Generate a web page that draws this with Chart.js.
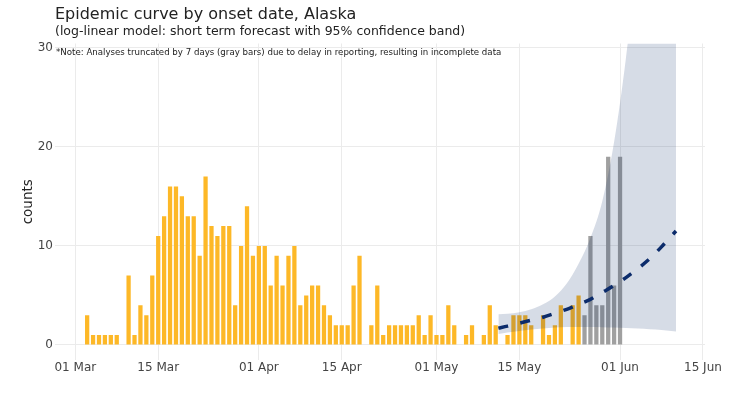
<!DOCTYPE html>
<html>
<head>
<meta charset="utf-8">
<title>Epidemic curve by onset date, Alaska</title>
<script src="https://cdn.jsdelivr.net/npm/chart.js@4.4.1/dist/chart.umd.min.js"></script>
<style>
    html, body { margin: 0; padding: 0; background: #fff; }
    #wrap { width: 741px; height: 393px; }
</style>
</head>
<body>
<div id="wrap"><canvas id="epiChart" width="741" height="393"></canvas></div>
<script>
// Daily counts by onset date, starting 03 Mar
const firstOnsetDate = "2020-03-03";
const dailyCounts = [
    3, 1, 1, 1, 1, 1, 0, 7, 1, 4, 3, 7,                       // 03 - 14 Mar
    11, 13, 16, 16, 15, 13, 13, 9, 17, 12, 11, 12, 12, 4, 10, 14, 9, // 15 - 31 Mar
    10, 10, 6, 9, 6, 9, 10, 4, 5, 6, 6, 4, 3, 2, 2,           // 01 - 15 Apr
    2, 6, 9, 0, 2, 6, 1, 2, 2, 2, 2, 2, 3, 1, 3,              // 16 - 30 Apr
    1, 1, 4, 2, 0, 1, 2, 0, 1, 4, 2, 0, 1, 3, 3,              // 01 - 15 May
    3, 2, 0, 3, 1, 2, 4, 0, 4, 5                              // 16 - 25 May
];

// Last 7 days, truncated because of reporting delay (gray bars)
const firstTruncatedDate = "2020-05-26";
const truncatedCounts = [3, 11, 4, 4, 19, 6, 19];

// Log-linear forecast, x in days since 01 Mar
const forecastDays = [71.45, 73, 75, 77, 79, 81, 83, 85, 87, 89, 91, 93, 95, 97, 99, 101.45];
const forecastMean = [1.7, 1.9, 2.2, 2.5, 2.8, 3.2, 3.6, 4.1, 4.6, 5.3, 6.0, 6.8, 7.7, 8.7, 9.9, 11.5];
const forecastUpper = [3.1, 3.15, 3.3, 3.6, 4.1, 4.9, 6.2, 8.2, 10.8, 14.5, 20.5, 29, 40, 55, 72, 98];
const forecastLower = [1.1, 1.25, 1.4, 1.55, 1.65, 1.75, 1.8, 1.8, 1.8, 1.78, 1.75, 1.7, 1.65, 1.58, 1.5, 1.35];

// Axis ticks
const xTickDates = ["2020-03-01", "2020-03-15", "2020-04-01", "2020-04-15", "2020-05-01", "2020-05-15", "2020-06-01", "2020-06-15"];
const xTickLabels = ["01 Mar", "15 Mar", "01 Apr", "15 Apr", "01 May", "15 May", "01 Jun", "15 Jun"];
const yTicks = [0, 10, 20, 30];

const noteText = "*Note: Analyses truncated by 7 days (gray bars) due to delay in reporting, resulting in incomplete data";
const fontFamily = "'DejaVu Sans', Verdana, sans-serif";

// days since 01 Mar
function dayOf(dateStr) {
    return (Date.parse(dateStr + "T00:00:00Z") - Date.parse("2020-03-01T00:00:00Z")) / 86400000;
}

function toPoints(startDate, counts) {
    const start = dayOf(startDate);
    return counts.map((c, i) => ({ x: start + i, y: c }));
}

function zipPoints(xs, ys) {
    return xs.map((x, i) => ({ x: x, y: ys[i] }));
}

// Small plugin for the note that sits inside the plot area
const notePlugin = {
    id: "note",
    afterDatasetsDraw(chart) {
        const ctx = chart.ctx;
        ctx.save();
        ctx.font = "8.65px " + fontFamily;
        ctx.fillStyle = "#222";
        ctx.textBaseline = "middle";
        ctx.textAlign = "left";
        ctx.fillText(noteText, chart.chartArea.left + 1, chart.chartArea.top + 9);
        ctx.restore();
    }
};

const ctx = document.getElementById("epiChart").getContext("2d");

new Chart(ctx, {
    type: "bar",
    data: {
        datasets: [
            {
                type: "line",
                label: "forecast",
                data: zipPoints(forecastDays, forecastMean),
                borderColor: "#0c2c6b",
                borderWidth: 3.5,
                borderDash: [10, 12.5],
                pointRadius: 0,
                fill: false,
                cubicInterpolationMode: "monotone",
                order: 0
            },
            {
                type: "line",
                label: "upper",
                data: zipPoints(forecastDays, forecastUpper),
                borderWidth: 0,
                pointRadius: 0,
                backgroundColor: "rgba(0, 40, 100, 0.16)",
                fill: "+1",
                cubicInterpolationMode: "monotone",
                order: 1
            },
            {
                type: "line",
                label: "lower",
                data: zipPoints(forecastDays, forecastLower),
                borderWidth: 0,
                pointRadius: 0,
                fill: false,
                cubicInterpolationMode: "monotone",
                order: 1
            },
            {
                label: "counts",
                data: toPoints(firstOnsetDate, dailyCounts),
                backgroundColor: "#fdb827",
                borderWidth: 0,
                grouped: false,
                categoryPercentage: 1,
                barPercentage: 0.72,
                order: 2
            },
            {
                label: "truncated",
                data: toPoints(firstTruncatedDate, truncatedCounts),
                backgroundColor: "#a0a0a0",
                borderWidth: 0,
                grouped: false,
                categoryPercentage: 1,
                barPercentage: 0.72,
                order: 2
            }
        ]
    },
    options: {
        responsive: false,
        animation: false,
        devicePixelRatio: 1,
        layout: {
            padding: { left: 0, right: 36, top: 0, bottom: 16.6 }
        },
        plugins: {
            legend: { display: false },
            tooltip: { enabled: false },
            title: {
                display: true,
                text: "Epidemic curve by onset date, Alaska",
                align: "start",
                fullSize: false,
                color: "#222",
                font: { family: fontFamily, size: 16, weight: "normal", lineHeight: 1.2 },
                padding: { top: 5.5, bottom: 0 }
            },
            subtitle: {
                display: true,
                text: "(log-linear model: short term forecast with 95% confidence band)",
                align: "start",
                fullSize: false,
                color: "#222",
                font: { family: fontFamily, size: 12.5, lineHeight: 1.0 },
                padding: { top: 0.8, bottom: 5.5 }
            }
        },
        scales: {
            x: {
                type: "linear",
                min: -3.43,
                max: 106.35,
                offset: false,
                border: { display: false },
                grid: { color: "#ebebeb", drawTicks: false, offset: false },
                afterBuildTicks: (axis) => {
                    axis.ticks = xTickDates.map((d) => ({ value: dayOf(d) }));
                },
                ticks: {
                    color: "#444",
                    padding: 1,
                    maxRotation: 0,
                    autoSkip: false,
                    font: { family: fontFamily, size: 12 },
                    callback: (value) => {
                        const i = xTickDates.findIndex((d) => dayOf(d) === value);
                        return i >= 0 ? xTickLabels[i] : "";
                    }
                }
            },
            y: {
                min: -1.52,
                max: 30.43,
                border: { display: false },
                grid: { color: "#ebebeb", drawTicks: false },
                afterBuildTicks: (axis) => {
                    axis.ticks = yTicks.map((v) => ({ value: v }));
                },
                afterFit: (axis) => {
                    axis.width = 55;
                },
                ticks: {
                    color: "#444",
                    padding: 2,
                    font: { family: fontFamily, size: 12 }
                },
                title: {
                    display: true,
                    text: "counts",
                    color: "#222",
                    font: { family: fontFamily, size: 13.5 },
                    padding: { top: 20, bottom: 0 }
                }
            }
        }
    },
    plugins: [notePlugin]
});
</script>
</body>
</html>
